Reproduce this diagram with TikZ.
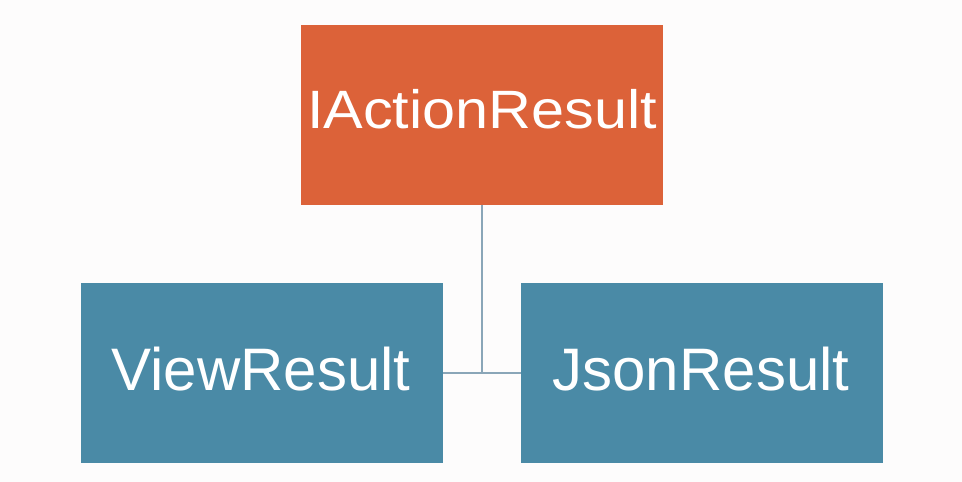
\documentclass[tikz,border=0pt]{standalone}
\usepackage{fontspec}
\setmainfont{Liberation Sans}
\definecolor{orangebox}{HTML}{DC6239}
\definecolor{tealbox}{HTML}{4A8AA6}
\definecolor{linkcol}{HTML}{8AA6B8}
\definecolor{bgcol}{HTML}{FDFCFC}
\begin{document}
\begin{tikzpicture}[x=1pt,y=-1pt]
\tikzset{
  box/.style={rectangle, inner sep=0pt, minimum width=362pt, minimum height=180pt},
  lbl/.style={anchor=base, text=white, inner sep=0pt, font=\fontsize{60}{62}\selectfont},
  link/.style={draw=linkcol, line width=2.4pt}
}
\fill[bgcol] (0,0) rectangle (962,482);
\useasboundingbox (0,0) rectangle (962,482);
\node[box, fill=orangebox] (top) at (482,114.5) {};
\node[box, fill=tealbox] (left) at (262,373) {};
\node[box, fill=tealbox] (right) at (702,373) {};
\node[lbl, font=\fontsize{54}{56}\selectfont] (ttop) at (482,128) {\scalebox{1.1}[1]{IActionResult}};
\node[lbl] (tleft) at (261,390) {ViewResult};
\node[lbl] (tright) at (701,390) {JsonResult};
\coordinate (j) at (top.south |- left.east);
\draw[link] (top.south) -- (j);
\draw[link] (left.east) -- (right.west);
\end{tikzpicture}
\end{document}
